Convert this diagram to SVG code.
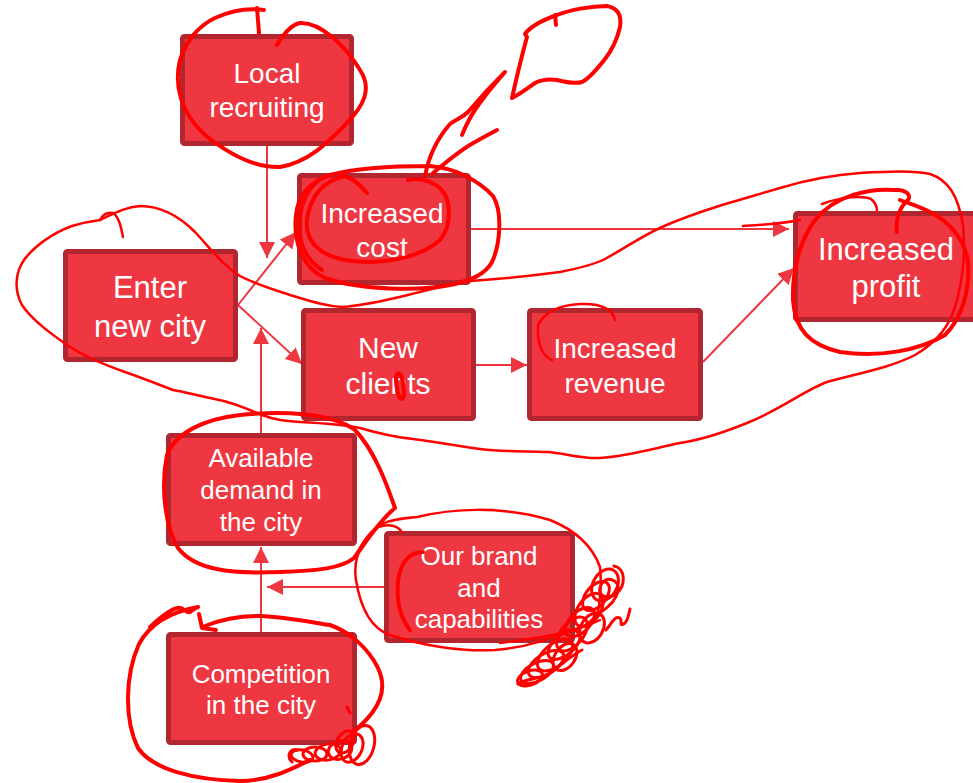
<svg xmlns="http://www.w3.org/2000/svg" width="973" height="783" viewBox="0 0 973 783">
  <style>
    .node rect { fill: #EF3742; stroke: #B1262F; stroke-width: 5; }
    .node text { font-family: "Liberation Sans", Arial, sans-serif; fill: #FFFFFF; text-anchor: middle; }
    .edge { stroke: #EE3641; stroke-width: 2; fill: none; marker-end: url(#arrow); }
    .ink { fill: none; stroke: #FF0000; stroke-linecap: round; stroke-linejoin: round; }
    .thin { stroke-width: 2.5; }
    .thick { stroke-width: 4; }
    .knot { stroke-width: 3; }
  </style>
  <defs>
    <marker id="arrow" markerUnits="userSpaceOnUse" markerWidth="16" markerHeight="16" refX="16" refY="8" orient="auto">
      <path d="M0,0 L16,8 L0,16 Z" fill="#EE3641"/>
    </marker>
  </defs>

  <!-- connectors -->
  <g id="connectors">
    <path class="edge" d="M267,146 L267,258"/>
    <path class="edge" d="M238,305 L296,232"/>
    <path class="edge" d="M238,305 L302,364"/>
    <path class="edge" d="M261,433 L261,328"/>
    <path class="edge" d="M471,229 L789,229"/>
    <path class="edge" d="M703,362 L794,268"/>
    <path class="edge" d="M476,365 L527,365"/>
    <path class="edge" d="M261,632 L261,547"/>
    <path class="edge" d="M384,587 L267,587"/>
  </g>

  <!-- nodes -->
  <g id="local-recruiting" class="node">
    <rect x="182.5" y="36.5" width="169" height="107" rx="2"/>
    <text x="267" y="83" font-size="28">Local</text>
    <text x="267" y="117" font-size="28">recruiting</text>
  </g>
  <g id="increased-cost" class="node">
    <rect x="299.5" y="175.5" width="169" height="107" rx="2"/>
    <text x="382" y="223" font-size="28">Increased</text>
    <text x="382" y="257" font-size="28">cost</text>
  </g>
  <g id="enter-new-city" class="node">
    <rect x="65.5" y="251.5" width="170" height="108" rx="2"/>
    <text x="150" y="298" font-size="31">Enter</text>
    <text x="150" y="337" font-size="31">new city</text>
  </g>
  <g id="new-clients" class="node">
    <rect x="303.5" y="310.5" width="170" height="108" rx="2"/>
    <text x="388" y="358" font-size="30">New</text>
    <text x="388" y="394" font-size="30">clients</text>
  </g>
  <g id="increased-revenue" class="node">
    <rect x="529.5" y="310.5" width="171" height="108" rx="2"/>
    <text x="615" y="358" font-size="28">Increased</text>
    <text x="615" y="393" font-size="28">revenue</text>
  </g>
  <g id="increased-profit" class="node">
    <rect x="795.5" y="213.5" width="184" height="106" rx="2"/>
    <text x="886" y="260" font-size="31">Increased</text>
    <text x="886" y="297" font-size="31">profit</text>
  </g>
  <g id="available-demand" class="node">
    <rect x="168.5" y="435.5" width="186" height="108" rx="2"/>
    <text x="261" y="467" font-size="26">Available</text>
    <text x="261" y="499" font-size="26">demand in</text>
    <text x="261" y="531" font-size="26">the city</text>
  </g>
  <g id="brand-capabilities" class="node">
    <rect x="386.5" y="533.5" width="186" height="107" rx="2"/>
    <text x="479" y="565" font-size="26">Our brand</text>
    <text x="479" y="597" font-size="26">and</text>
    <text x="479" y="628" font-size="26">capabilities</text>
  </g>
  <g id="competition" class="node">
    <rect x="168.5" y="634.5" width="186" height="108" rx="2"/>
    <text x="261" y="683" font-size="26">Competition</text>
    <text x="261" y="714" font-size="26">in the city</text>
  </g>

  <!-- freehand pen markings -->
  <g id="ink">
    <!-- loop around local recruiting -->
    <path class="ink thick" d="M277,45 C283,35 290,25 300,23 C320,22 345,45 360,70 C372,88 365,105 345,125 C330,140 310,162 280,167 C255,168 230,155 205,135 C180,112 174,85 180,60 C186,40 200,25 215,18 C232,10 250,8 264,10"/>
    <path class="ink thick" d="M257,8 L259,33"/>

    <!-- pen nib and balloon above increased cost -->
    <path class="ink thick" d="M425,176 C428,160 436,140 450,124 C456,119 462,118 468,112 C480,98 495,82 505,72 C498,80 485,95 475,110 C468,120 465,128 462,135"/>
    <path class="ink thick" d="M432,174 C445,163 460,150 475,142 C484,137 491,133 497,130"/>
    <path class="ink thick" d="M512,98 C516,80 522,55 527,37 L525,34 C530,27 540,21 557,15 C570,10 590,6 607,6 C617,8 622,14 620,27 C617,40 612,50 605,59 C598,68 590,78 582,82 C575,84 565,82 557,80 C550,79 543,79 535,83 C528,88 520,94 512,98"/>
    <path class="ink thick" d="M555,15 L556,25"/>

    <!-- loops around increased cost -->
    <path class="ink thick" d="M430,166 C455,168 478,180 493,196 C503,212 500,245 492,262 C485,275 470,280 455,284 C420,292 360,290 325,278 C302,268 293,240 296,215 C298,195 310,182 330,175 C360,167 400,166 430,166"/>
    <path class="ink thick" d="M367,193 C360,185 352,178 345,176 C325,180 310,195 307,220 C305,240 318,255 345,260 C380,266 420,258 440,240 C452,225 452,200 440,188 C430,180 418,178 408,180"/>
    <path class="ink thick" d="M318,181 C304,192 298,212 300,235 C302,250 310,262 322,270"/>

    <!-- long loop from entering the city round to profit -->
    <path class="ink thin" d="M123,237 C121,227 119,217 113,213 C108,212 103,214 100,220"/>
    <path class="ink thin" d="M100,220 C113,214 125,207 140,206 C160,206 178,215 195,232 C210,248 222,265 240,276 C255,284 272,289 290,295 C310,301 325,306 342,307 C370,305 395,298 420,292 C440,287 455,283 470,281 C500,279 530,276 560,272 C580,268 595,264 605,259 C625,248 642,236 662,227 C680,219 700,212 722,205 C742,199 760,194 780,188 C800,182 830,175 860,173 C890,171 915,170 930,174 C948,180 958,195 963,225 C966,255 962,290 952,315 C945,332 932,345 915,355 C890,368 855,374 827,382 C805,390 780,410 747,423 C725,432 700,440 680,443 C655,448 630,456 600,458 C580,459 565,453 547,452 C525,451 505,452 480,449 C460,447 440,442 413,439 C395,437 380,434 360,428 C340,424 320,423 300,422 C285,421 275,420 262,415 C245,408 232,402 210,398 C195,395 185,392 173,390 C160,385 145,379 125,372 C105,365 85,357 67,345 C50,333 32,320 22,305 C14,290 15,273 24,260 C35,245 55,232 72,226 C82,223 92,221 100,220"/>

    <!-- loop around increased profit -->
    <path class="ink thick" d="M897,232 C895,220 900,207 907,201 C913,196 906,189 895,190 C870,188 835,195 815,220 C800,240 792,270 793,300 C795,330 810,345 840,352 C880,358 920,350 945,335 C962,318 970,290 968,262 C965,240 950,222 930,212 C918,206 908,203 900,200"/>
    <path class="ink thin" d="M743,226 C760,225 780,224 800,220"/>
    <path class="ink thin" d="M822,204 C840,197 862,195 871,199 C876,203 877,207 877,211"/>

    <!-- marks on clients and revenue -->
    <ellipse class="ink thick" cx="400" cy="386" rx="3.5" ry="13" transform="rotate(-8 400 386)"/>
    <path class="ink thin" d="M552,360 C543,357 537,345 538,325 C545,312 560,305 580,304 C600,303 612,308 615,320"/>

    <!-- loop around available demand -->
    <path class="ink thick" d="M395,508 C386,482 374,450 355,430 C330,412 280,411 240,415 C205,419 176,432 167,455 C160,490 166,528 178,548 C195,570 230,574 280,572 C318,571 342,568 354,558 C364,545 378,522 395,508"/>
    <path class="ink thin" d="M357,553 C364,540 370,531 378,527 C388,524 397,525 402,532"/>

    <!-- loop around brand and capabilities -->
    <path class="ink thin" d="M417,517 C450,509 500,505 550,520 C575,530 592,545 600,567 C602,585 600,600 598,612 C590,625 580,630 567,630 C545,642 520,648 495,650 C460,652 420,645 390,635 C370,628 360,605 356,580 C353,560 360,540 382,524 C393,519 405,518 417,517"/>
    <path class="ink thick" d="M423,552 C410,552 400,562 398,582 C396,605 402,620 410,630"/>
    <path class="ink thin" d="M500,643 C525,640 550,636 567,632 C580,628 592,624 600,620"/>

    <!-- knotted scribble beside brand and capabilities -->
    <g class="ink knot">
      <ellipse cx="605" cy="585" rx="17" ry="12" transform="rotate(-60 605 585)"/>
      <ellipse cx="596" cy="596" rx="17" ry="10" transform="rotate(-50 596 596)"/>
      <ellipse cx="589" cy="610" rx="19" ry="11" transform="rotate(-55 589 610)"/>
      <ellipse cx="580" cy="622" rx="18" ry="10" transform="rotate(-45 580 622)"/>
      <ellipse cx="572" cy="634" rx="20" ry="11" transform="rotate(-50 572 634)"/>
      <ellipse cx="564" cy="645" rx="19" ry="10" transform="rotate(-40 564 645)"/>
      <ellipse cx="555" cy="655" rx="21" ry="11" transform="rotate(-40 555 655)"/>
      <ellipse cx="546" cy="664" rx="20" ry="10" transform="rotate(-32 546 664)"/>
      <ellipse cx="537" cy="672" rx="18" ry="9" transform="rotate(-28 537 672)"/>
      <ellipse cx="530" cy="678" rx="13" ry="7" transform="rotate(-20 530 678)"/>
      <ellipse cx="592" cy="628" rx="11" ry="16" transform="rotate(30 592 628)"/>
      <ellipse cx="565" cy="657" rx="10" ry="15" transform="rotate(35 565 657)"/>
      <path d="M614,566 c11,2 13,19 2,28 c-9,6 -20,2 -15,-9 c4,-10 19,-6 17,6 c-2,10 -11,17 -17,21"/>
      <path d="M606,630 c5,-5 8,-15 14,-12 c3,3 -2,10 5,5 c3,-3 4,-10 5,-14"/>
      <path d="M518,684 c8,-6 20,-4 30,-10 c10,-6 22,-18 34,-24"/>
    </g>

    <!-- loop around competition in the city -->
    <path class="ink thick" d="M150,627 C158,620 168,610 177,608 C184,606 186,614 190,612 C193,610 195,608 198,607 C175,611 152,620 139,644 C125,675 124,720 138,748 C153,770 195,780 240,781 C268,781 290,770 310,760"/>
    <path class="ink thick" d="M205,626 C220,620 240,616 260,616 C285,617 310,622 330,625 C350,632 368,648 378,668 C386,685 382,700 372,713 C365,722 358,728 352,732"/>
    <path class="ink thick" d="M199,614 L202,628 L216,630"/>
    <g class="ink knot">
      <ellipse cx="362" cy="745" rx="12" ry="20" transform="rotate(15 362 745)"/>
      <ellipse cx="352" cy="748" rx="10" ry="15" transform="rotate(25 352 748)"/>
      <ellipse cx="340" cy="750" rx="12" ry="9" transform="rotate(-20 340 750)"/>
      <ellipse cx="328" cy="752" rx="13" ry="8" transform="rotate(-10 328 752)"/>
      <ellipse cx="315" cy="754" rx="12" ry="7"/>
      <ellipse cx="302" cy="756" rx="11" ry="6" transform="rotate(10 302 756)"/>
      <ellipse cx="345" cy="742" rx="8" ry="12" transform="rotate(30 345 742)"/>
      <path d="M292,762 c-6,-6 -2,-14 6,-12"/>
      <path d="M347,707 L350,713"/>
    </g>
  </g>
</svg>
